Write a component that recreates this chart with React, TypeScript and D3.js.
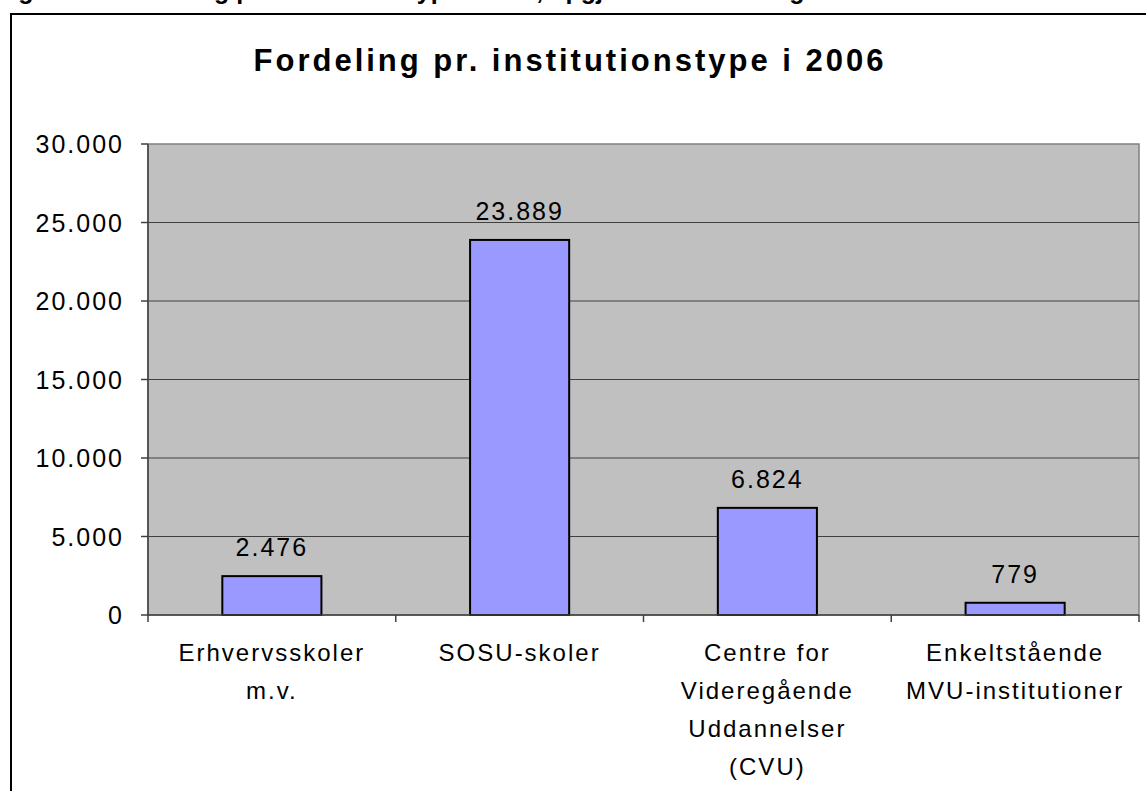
import React from "react";
import * as d3 from "d3";

const categories: string[][] = [
  ["Erhvervsskoler", "m.v."],
  ["SOSU-skoler"],
  ["Centre for", "Videregående", "Uddannelser", "(CVU)"],
  ["Enkeltstående", "MVU-institutioner"],
];
const values: number[] = [2476, 23889, 6824, 779];
const yTicks: number[] = [0, 5000, 10000, 15000, 20000, 25000, 30000];
const title = "Fordeling pr. institutionstype i 2006";
const clippedHeading = "Figur 4.2: Fordeling pr. institutionstype i 2006, opgjort i årselever og antal institutioner";

const W = 1146;
const H = 791;
const left = 148;
const right = 1139;
const top = 144;
const bottom = 615;

const fmt = (v: number) =>
  v === 0 ? "0" : d3.format(",")(v).replace(/,/g, ".");

export default function App() {
  const x = d3
    .scaleBand<number>()
    .domain(values.map((_, i) => i))
    .range([left, right])
    .paddingInner(0.6)
    .paddingOuter(0.3);
  const y = d3.scaleLinear().domain([0, 30000]).range([bottom, top]);
  const step = x.step();
  const font = "Arial, 'Liberation Sans', sans-serif";

  return (
    <svg
      width={W}
      height={H}
      style={{ position: "fixed", left: 0, top: 0, background: "#fff" }}
      fontFamily={font}
    >
      <text x={-4} y={-1} fontSize={25} fontWeight="bold" fill="#000">
        {clippedHeading}
      </text>
      <rect x={11} y={14} width={1160} height={800} fill="#fff" stroke="#000" strokeWidth={2} />
      <text
        x={570}
        y={71}
        textAnchor="middle"
        fontSize={31}
        fontWeight="bold"
        letterSpacing={3}
      >
        {title}
      </text>
      <rect x={left} y={top} width={right - left} height={bottom - top} fill="#C0C0C0" stroke="#808080" strokeWidth={1.5} />
      {yTicks.map((t) => (
        <g key={t}>
          {t > 0 && t < 30000 && (
            <line x1={left} x2={right} y1={y(t)} y2={y(t)} stroke="#404040" strokeWidth={1} />
          )}
          <line x1={left - 7} x2={left} y1={y(t)} y2={y(t)} stroke="#404040" strokeWidth={1.5} />
          <text x={124} y={y(t) + 9} textAnchor="end" fontSize={25} letterSpacing={2}>
            {fmt(t)}
          </text>
        </g>
      ))}
      <line x1={left} x2={left} y1={top} y2={bottom} stroke="#404040" strokeWidth={1.5} />
      {values.map((v, i) => {
        const bx = x(i)!;
        const bw = x.bandwidth();
        return (
          <g key={i}>
            <rect x={bx} y={y(v)} width={bw} height={bottom - y(v)} fill="#9999FF" stroke="#000" strokeWidth={2} />
            <text x={bx + bw / 2} y={y(v) - 20} textAnchor="middle" fontSize={25} letterSpacing={2}>
              {fmt(v)}
            </text>
          </g>
        );
      })}
      <line x1={left} x2={right} y1={bottom} y2={bottom} stroke="#404040" strokeWidth={1.5} />
      {d3.range(values.length + 1).map((i) => (
        <line key={i} x1={left + i * step} x2={left + i * step} y1={bottom} y2={bottom + 7} stroke="#404040" strokeWidth={1.5} />
      ))}
      {categories.map((lines, i) => (
        <text key={i} x={x(i)! + x.bandwidth() / 2} textAnchor="middle" fontSize={24} letterSpacing={2}>
          {lines.map((l, j) => (
            <tspan key={j} x={x(i)! + x.bandwidth() / 2} y={661 + j * 38}>
              {l}
            </tspan>
          ))}
        </text>
      ))}
    </svg>
  );
}
